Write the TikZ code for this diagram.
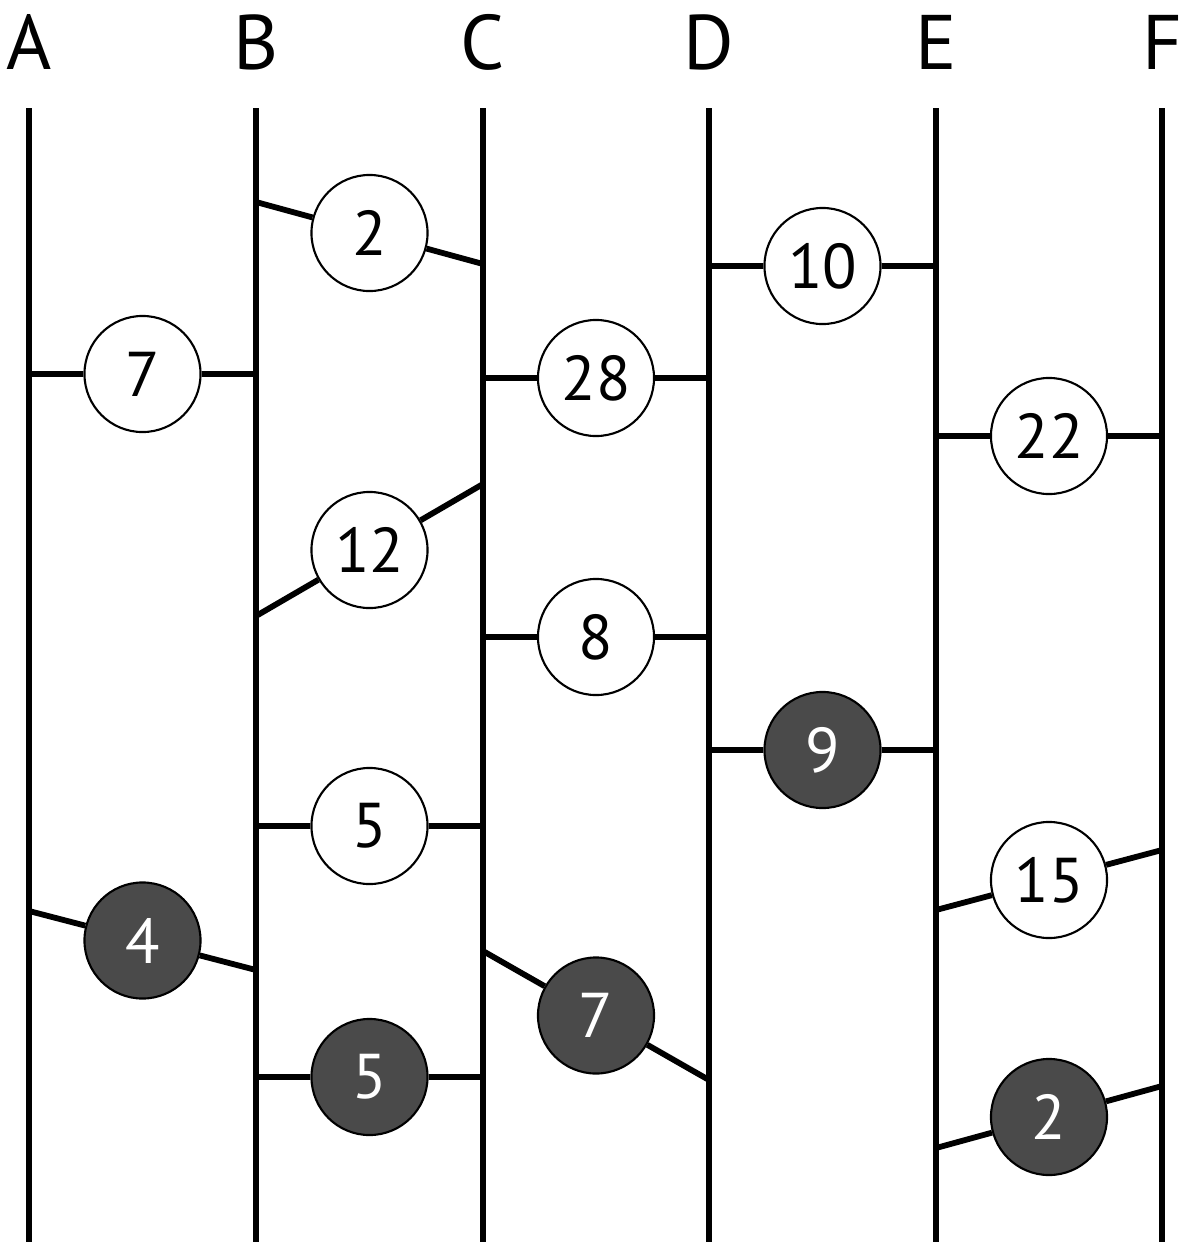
\documentclass[tikz,border=0pt]{standalone}
\usepackage{fontspec}
\setmainfont{PT Sans}
\usepackage{tikz}
\usetikzlibrary{positioning,calc}
\definecolor{darkball}{HTML}{4A4A4A}
\tikzstyle{rail} = [line width=1.65pt]
\tikzstyle{rung} = [line width=1.65pt]
\tikzstyle{lbl} = [font=\fontsize{22}{24}\selectfont, inner sep=0pt]
\tikzstyle{ball} = [draw, circle, line width=0.6pt, fill=white,
    minimum size=1.16cm, inner sep=0pt, font=\fontsize{18}{20}\selectfont]
\tikzstyle{dball} = [ball, fill=darkball, text=white]

\begin{document}
\begin{tikzpicture}[x=0.01cm, y=-0.01cm]
    \useasboundingbox (0,0) rectangle (1184,1242);
    % the six rails and their letters
    \foreach \name/\xx in {A/29, B/256, C/483, D/709, E/936, F/1162} {
        \node [lbl] (lbl\name) at (\xx,42) {\name};
        \coordinate (top\name) at (\xx,108);
        \coordinate (bot\name) at (\xx,1242);
        \draw [rail] (top\name) -- (bot\name);
    }

    % rungs: left end, right end, then the ball in the middle
    \coordinate (a1) at (29,374);   \coordinate (b1) at (256,374);
    \coordinate (a2) at (29,911);   \coordinate (b2) at (256,970);
    \coordinate (a3) at (256,202);  \coordinate (b3) at (483,264);
    \coordinate (a4) at (256,616);  \coordinate (b4) at (483,484);
    \coordinate (a5) at (256,826);  \coordinate (b5) at (483,826);
    \coordinate (a6) at (256,1077); \coordinate (b6) at (483,1077);
    \coordinate (a7) at (483,378);  \coordinate (b7) at (709,378);
    \coordinate (a8) at (483,637);  \coordinate (b8) at (709,637);
    \coordinate (a9) at (483,951);  \coordinate (b9) at (709,1080);
    \coordinate (a10) at (709,266); \coordinate (b10) at (936,266);
    \coordinate (a11) at (709,750); \coordinate (b11) at (936,750);
    \coordinate (a12) at (936,436); \coordinate (b12) at (1162,436);
    \coordinate (a13) at (936,910); \coordinate (b13) at (1162,850);
    \coordinate (a14) at (936,1148); \coordinate (b14) at (1162,1086);

    \node [ball]  (w1) at ($(a1)!0.5!(b1)$) {7};
    \node [dball] (w2) at ($(a2)!0.5!(b2)$) {4};
    \node [ball]  (w3) at ($(a3)!0.5!(b3)$) {2};
    \node [ball]  (w4) at ($(a4)!0.5!(b4)$) {12};
    \node [ball]  (w5) at ($(a5)!0.5!(b5)$) {5};
    \node [dball] (w6) at ($(a6)!0.5!(b6)$) {5};
    \node [ball]  (w7) at ($(a7)!0.5!(b7)$) {28};
    \node [ball]  (w8) at ($(a8)!0.5!(b8)$) {8};
    \node [dball] (w9) at ($(a9)!0.5!(b9)$) {7};
    \node [ball]  (w10) at ($(a10)!0.5!(b10)$) {10};
    \node [dball] (w11) at ($(a11)!0.5!(b11)$) {9};
    \node [ball]  (w12) at ($(a12)!0.5!(b12)$) {22};
    \node [ball]  (w13) at ($(a13)!0.5!(b13)$) {15};
    \node [dball] (w14) at ($(a14)!0.5!(b14)$) {2};

    \foreach \i in {1,...,14}
        \draw [rung] (a\i) -- (w\i) -- (b\i);
\end{tikzpicture}
\end{document}
